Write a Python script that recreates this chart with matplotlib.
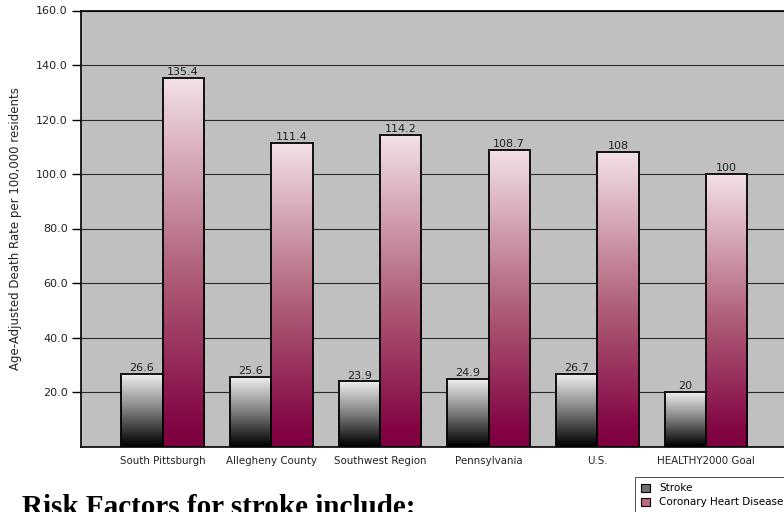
"""Stroke vs coronary heart disease death rates, grouped gradient bars."""

# --------------------------------------------------
# load necessary modules
# --------------------------------------------------
import matplotlib

matplotlib.use("Agg")
import matplotlib.pyplot as plt
import numpy as np
from matplotlib.colors import LinearSegmentedColormap
from matplotlib.patches import Patch

# --------------------------------------------------
# chart data
# --------------------------------------------------
categories = [
    "South Pittsburgh",
    "Allegheny County",
    "Southwest Region",
    "Pennsylvania",
    "U.S.",
    "HEALTHY2000 Goal",
]
stroke = [26.6, 25.6, 23.9, 24.9, 26.7, 20]
chd = [135.4, 111.4, 114.2, 108.7, 108, 100]
stroke_labels = ["26.6", "25.6", "23.9", "24.9", "26.7", "20"]
chd_labels = ["135.4", "111.4", "114.2", "108.7", "108", "100"]
series_names = ["Stroke", "Coronary Heart Disease"]
y_ticks = [20, 40, 60, 80, 100, 120, 140, 160]

# --------------------------------------------------
# styles
# --------------------------------------------------
plt.rcParams["font.family"] = ["DejaVu Sans"]
gray_cmap = LinearSegmentedColormap.from_list(
    "gray_grad", [(0.0, "#000000"), (0.5, "#808080"), (1.0, "#f2f2f2")]
)
pink_cmap = LinearSegmentedColormap.from_list(
    "pink_grad",
    [(0.0, "#7e0040"), (0.05, "#820443"), (0.5, "#b3667d"), (1.0, "#f3e1e5")],
)

fig = plt.figure(figsize=(7.84, 5.12), dpi=100)
ax = fig.add_axes([81 / 784, 65.5 / 512, 706.5 / 784, 436 / 512])
ax.set_facecolor("#c0c0c0")

x = np.arange(len(categories))
width = 0.38


# --------------------------------------------------
# fill a bar rectangle with a vertical gradient
# --------------------------------------------------
def _gradient_bars(bars, cmap):
    grad = np.linspace(0, 1, 256).reshape(-1, 1)
    for bar in bars:
        x0 = bar.get_x()
        x1 = x0 + bar.get_width()
        h = bar.get_height()
        ax.imshow(
            grad,
            cmap=cmap,
            origin="lower",
            extent=[x0, x1, 0, h],
            aspect="auto",
            zorder=2,
        )


bars_s = ax.bar(x - width / 2, stroke, width, facecolor="none",
                edgecolor="black", linewidth=1.3, zorder=3)
bars_c = ax.bar(x + width / 2, chd, width, facecolor="none",
                edgecolor="black", linewidth=1.3, zorder=3)
_gradient_bars(bars_s, gray_cmap)
_gradient_bars(bars_c, pink_cmap)

# value labels
for bars, labels in ((bars_s, stroke_labels), (bars_c, chd_labels)):
    for bar, lab in zip(bars, labels):
        ax.text(bar.get_x() + bar.get_width() / 2, bar.get_height() + 0.3, lab,
                ha="center", va="bottom", fontsize=8, color="#222222")

# axes
ax.set_xlim(-0.75, len(categories) - 0.25)
ax.set_ylim(0, 160)
ax.set_yticks(y_ticks)
ax.set_yticklabels([f"{v:.1f}" for v in y_ticks], fontsize=8, color="#222222")
ax.set_xticks(x)
ax.set_xticklabels(categories, fontsize=7.4, color="#222222")
ax.tick_params(axis="x", length=0, pad=7)
ax.tick_params(axis="y", length=6.5, width=1.0, direction="out", pad=3)
ax.yaxis.grid(True, color="#2a2a2a", linewidth=0.8)
ax.set_axisbelow(True)
for sp in ax.spines.values():
    sp.set_linewidth(1.2)
    sp.set_color("black")
ax.set_ylabel("Age-Adjusted Death Rate per 100,000 residents", fontsize=8.5,
              color="#222222", labelpad=10)

# legend
handles = [
    Patch(facecolor="#707070", edgecolor="black", linewidth=0.8),
    Patch(facecolor="#c0687f", edgecolor="black", linewidth=0.8),
]
leg = fig.legend(handles, series_names, loc="upper left",
                 bbox_to_anchor=(635 / 784, 1 - 477 / 512), fontsize=7.5,
                 frameon=True, fancybox=False, handlelength=0.8,
                 handleheight=0.8, handletextpad=0.9, borderpad=0.6,
                 labelspacing=0.4, borderaxespad=0)
leg.get_frame().set_edgecolor("black")
leg.get_frame().set_linewidth(0.6)

# heading below chart, partly cut off
fig.text(22 / 784, -3 / 512, "Risk Factors for stroke include:",
         fontfamily="Liberation Serif", fontweight="bold", fontsize=21,
         ha="left", va="baseline", color="black")

fig.savefig("out.png", dpi=100)
